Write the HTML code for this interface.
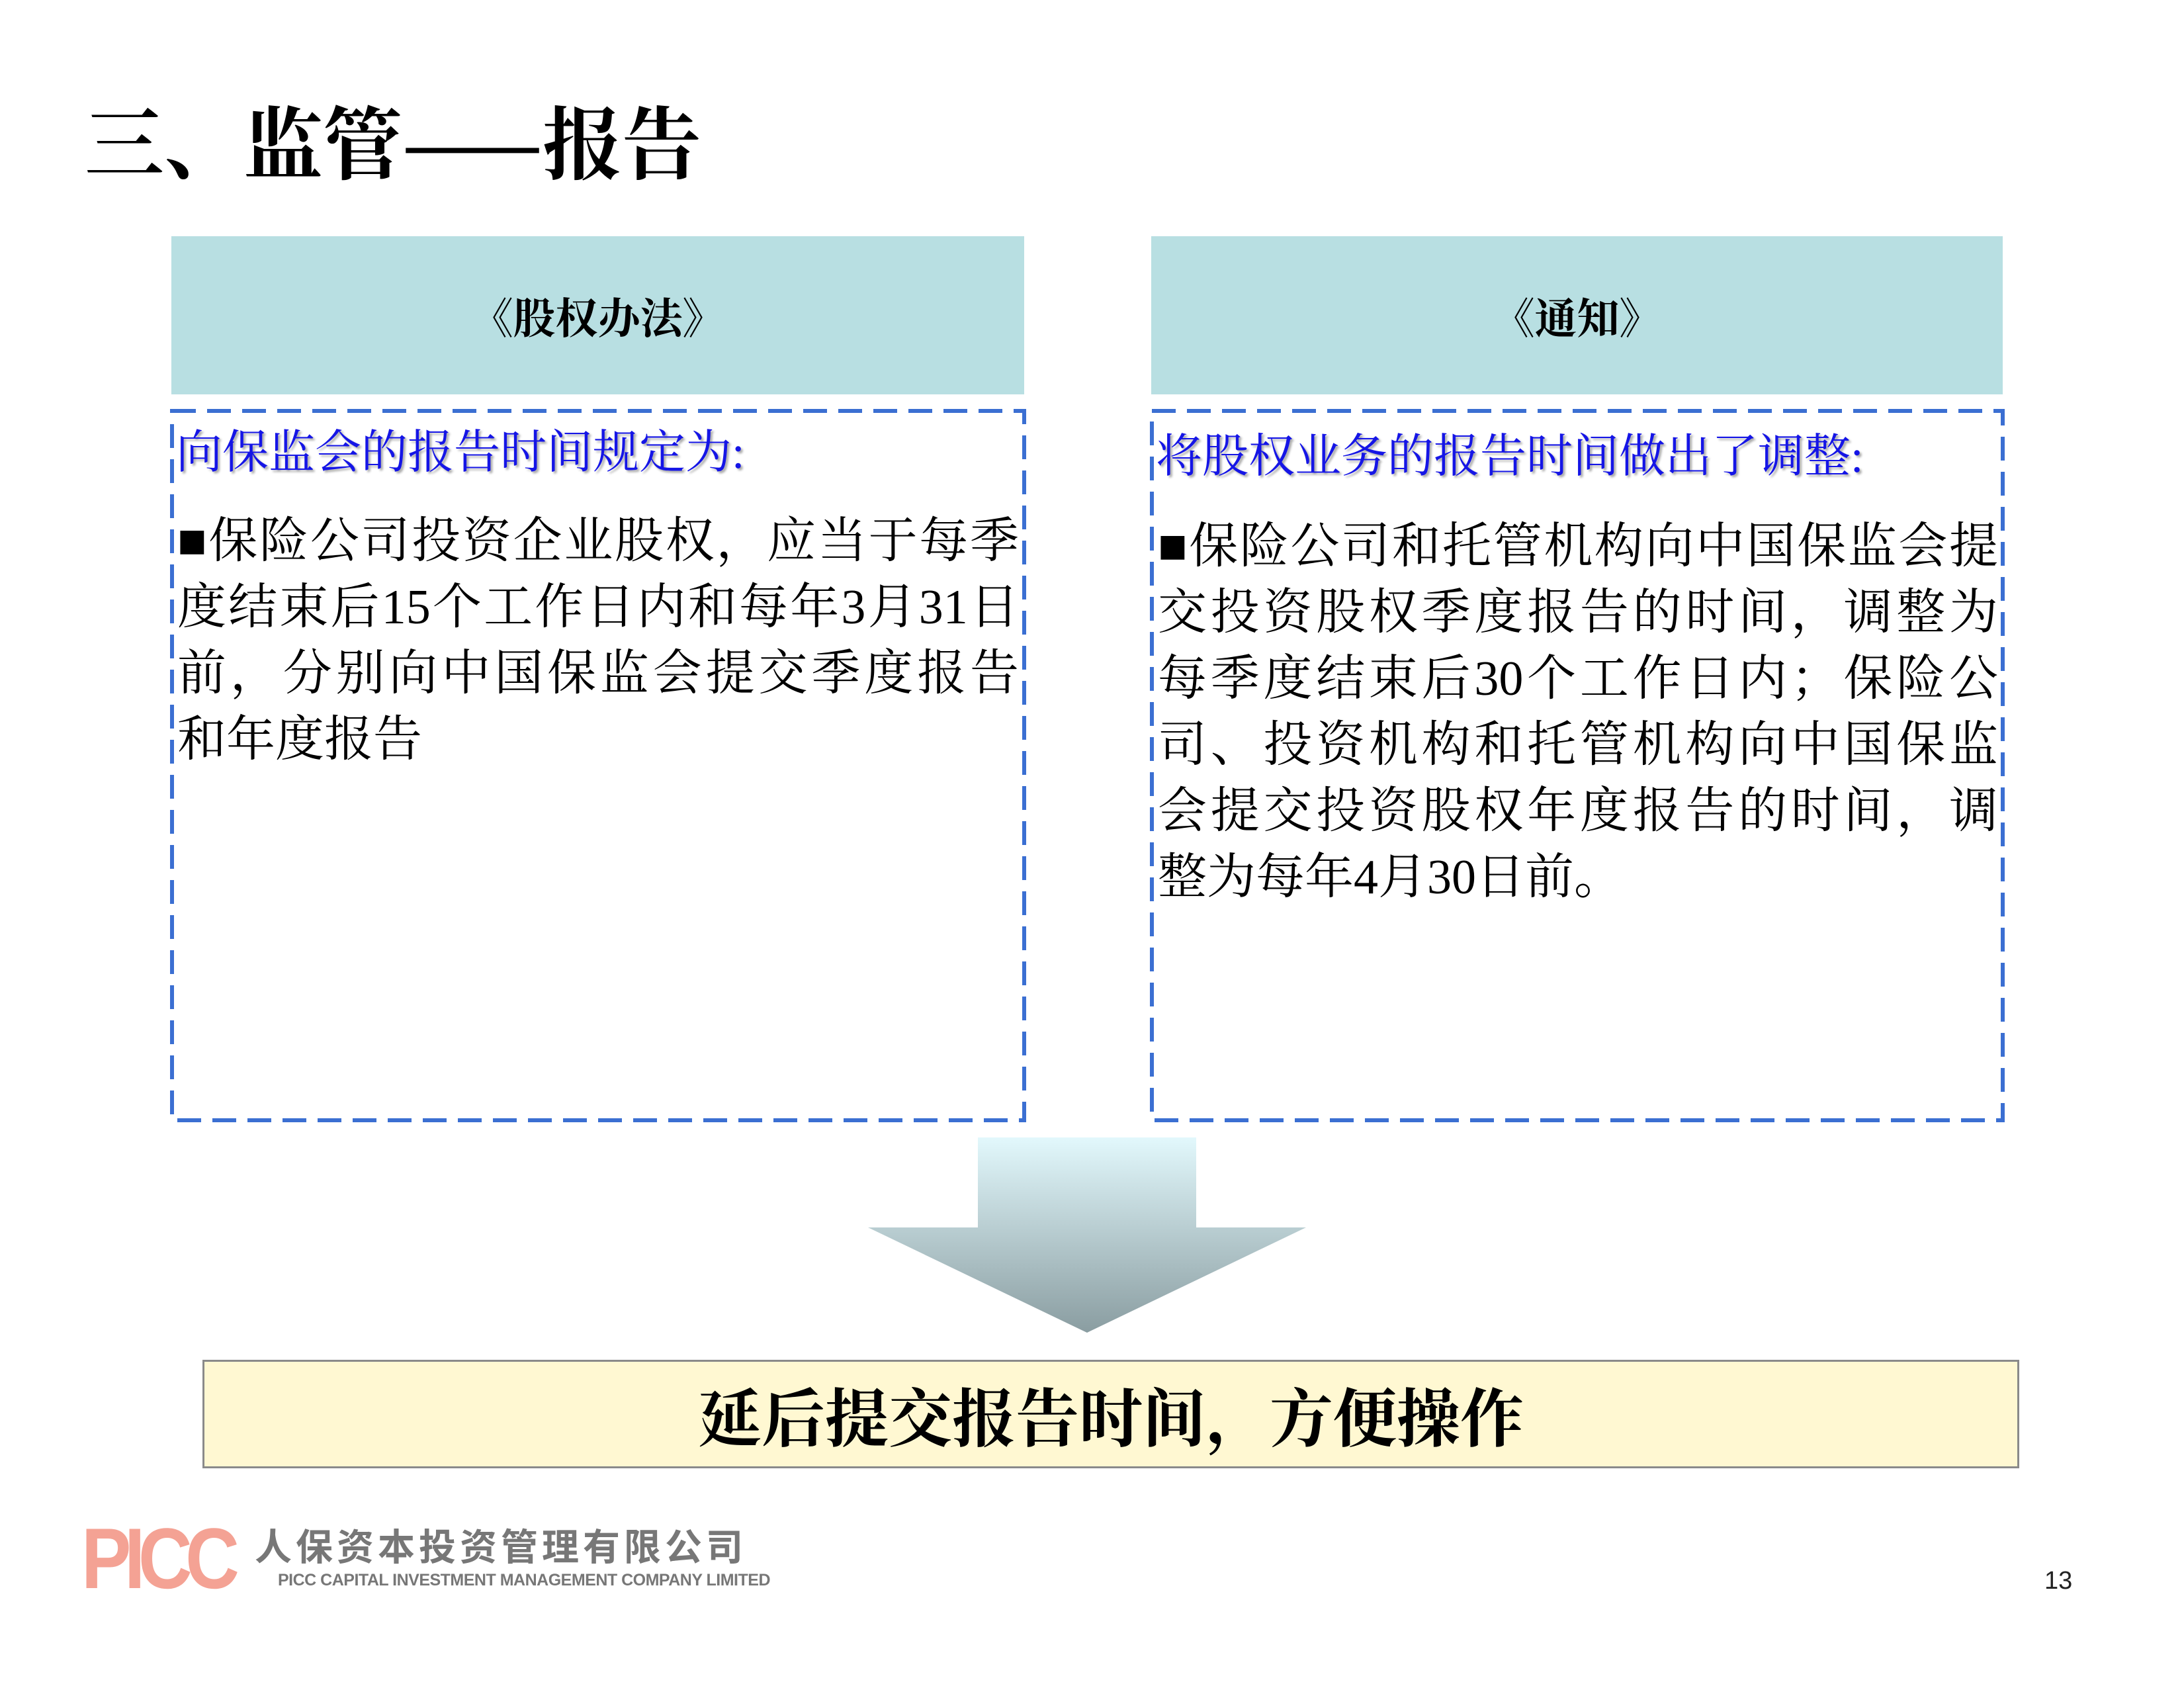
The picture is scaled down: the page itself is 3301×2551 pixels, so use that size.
<!DOCTYPE html>
<html><head><meta charset="utf-8"><style>
body{margin:0;width:3301px;height:2551px;background:#fff;position:relative;overflow:hidden;font-family:"Liberation Serif","Noto Serif CJK SC",serif}
.a{position:absolute}
.hd{background:#b8dfe2;display:flex;align-items:center;justify-content:center;font-weight:bold;font-size:64px;color:#000}
.h2{color:#1515e6;font-size:70px;text-shadow:3px 3px 3px #aaa;white-space:nowrap}
.ln{font-size:74px;height:100px;line-height:100px;white-space:nowrap;text-align:justify;text-align-last:justify;color:#000}
.ln.l{text-align-last:left}
</style></head><body>
<div class="a" style="left:128px;top:140px;font-size:120px;font-weight:bold;font-family:'Noto Serif CJK SC',serif;line-height:140px">三、监管——报告</div>

<div class="a hd" style="left:259px;top:357px;width:1289px;height:239px">《股权办法》</div>
<div class="a hd" style="left:1740px;top:357px;width:1287px;height:239px">《通知》</div>

<svg class="a" style="left:0;top:0" width="3301" height="2551">
<defs><linearGradient id="g2" gradientUnits="userSpaceOnUse" x1="0" y1="1719" x2="0" y2="2014">
<stop offset="0" stop-color="#e2f8fc"/><stop offset="1" stop-color="#8a9da1"/></linearGradient></defs>
<rect x="260" y="621" width="1288" height="1072" fill="none" stroke="#3b6fd2" stroke-width="6" stroke-dasharray="36,17"/>
<rect x="1741" y="621" width="1286" height="1072" fill="none" stroke="#3b6fd2" stroke-width="6" stroke-dasharray="36,17"/>
<polygon points="1478,1719 1808,1719 1808,1855 1974,1855 1643,2014 1312,1855 1478,1855" fill="url(#g2)"/>
</svg>

<div class="a h2" style="left:266px;top:640px;line-height:90px">向保监会的报告时间规定为:</div>
<div class="a" style="left:268px;top:768px;width:1272px">
<div class="ln">■保险公司投资企业股权，应当于每季</div>
<div class="ln">度结束后15个工作日内和每年3月31日</div>
<div class="ln">前，分别向中国保监会提交季度报告</div>
<div class="ln l">和年度报告</div>
</div>

<div class="a h2" style="left:1747px;top:646px;line-height:90px">将股权业务的报告时间做出了调整:</div>
<div class="a" style="left:1750px;top:776px;width:1270px">
<div class="ln">■保险公司和托管机构向中国保监会提</div>
<div class="ln">交投资股权季度报告的时间，调整为</div>
<div class="ln">每季度结束后30个工作日内；保险公</div>
<div class="ln">司、投资机构和托管机构向中国保监</div>
<div class="ln">会提交投资股权年度报告的时间，调</div>
<div class="ln l">整为每年4月30日前。</div>
</div>

<div class="a" style="left:306px;top:2055px;width:2746px;height:164px;box-sizing:border-box;background:#fff8d2;border:3px solid #8a8a8a;display:flex;align-items:center;justify-content:center;font-size:96px;font-weight:bold;font-family:'Noto Serif CJK SC',serif">延后提交报告时间，方便操作</div>

<div class="a" style="left:123px;top:2300px;font-family:'Liberation Sans',sans-serif;font-weight:bold;font-size:130px;color:#f4a294;letter-spacing:-12px;line-height:110px;transform:scaleX(0.87);transform-origin:left">PICC</div>
<div class="a" style="left:385px;top:2300px;font-family:'Noto Sans CJK SC',sans-serif;font-weight:bold;font-size:56px;color:#777;letter-spacing:6px;line-height:70px">人保资本投资管理有限公司</div>
<div class="a" style="left:420px;top:2372px;font-family:'Liberation Sans',sans-serif;font-weight:bold;font-size:25px;color:#777;line-height:32px;letter-spacing:-0.5px">PICC CAPITAL INVESTMENT MANAGEMENT COMPANY LIMITED</div>
<div class="a" style="left:3090px;top:2368px;font-family:'Liberation Sans',sans-serif;font-size:38px;color:#222">13</div>
</body></html>
